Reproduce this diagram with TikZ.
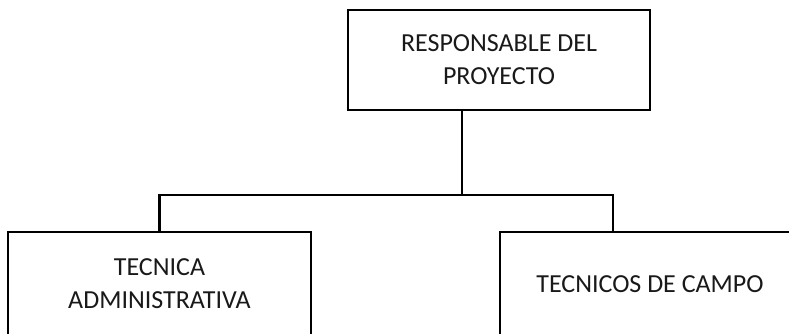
\documentclass[tikz,border=0pt]{standalone}
\usepackage{fontspec}
\setmainfont{Carlito}
\begin{document}
\begin{tikzpicture}[x=1pt,y=1pt,
  orgbox/.style={draw=black, line width=2pt, fill=white, align=center,
    font=\fontsize{26}{33}\selectfont, text=black!90, inner sep=0pt},
  link/.style={draw=black, line width=2.4pt}]
\clip (0,0) rectangle (789,333);
\node[orgbox, minimum width=302pt, minimum height=100.5pt] (top) at (499,273)
  {RESPONSABLE DEL\\PROYECTO};
\node[orgbox, minimum width=303pt, minimum height=104pt] (left) at (159.5,49)
  {TECNICA\\ADMINISTRATIVA};
\node[orgbox, minimum width=300pt, minimum height=104pt] (right) at (650,49)
  {TECNICOS DE CAMPO};
\coordinate (bus) at (462,138);
\coordinate (rj) at (613,138);
\draw[link] (top.south -| bus) -- (bus);
\draw[link] (left.north) |- (rj) -- (rj |- right.north);
\end{tikzpicture}
\end{document}
